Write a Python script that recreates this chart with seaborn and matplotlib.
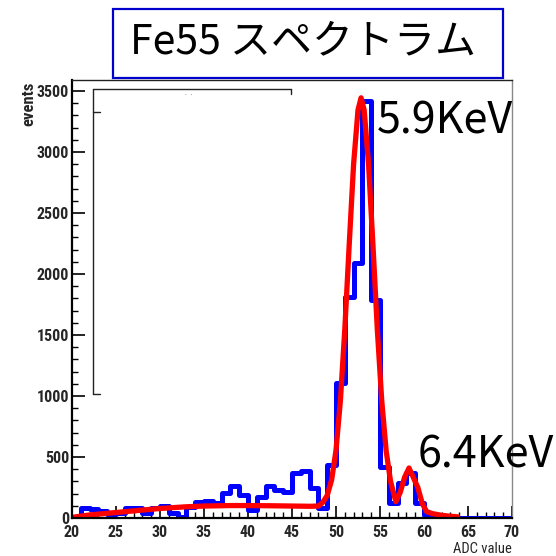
import numpy as np
import pandas as pd
import matplotlib
matplotlib.use("Agg")
import matplotlib.pyplot as plt
from matplotlib.patches import Rectangle
from matplotlib.lines import Line2D
from matplotlib.ticker import MultipleLocator
import seaborn as sns

# ADC histogram: 1-unit bins from 20 to 70 (lower edges)
bin_low = list(range(20, 70))
counts = [0, 85, 75, 58, 30, 40, 85, 78, 45, 80,
          100, 40, 10, 90, 130, 140, 120, 205, 260, 185,
          68, 172, 260, 230, 215, 365, 385, 245, 85, 435,
          1110, 1815, 2090, 3420, 1790, 420, 120, 285, 370, 120,
          25, 10, 3, 2, 0, 0, 0, 0, 0, 0]

# fitted curve (two peaks on a slowly varying background)
fit_x = [20, 22, 25, 28, 30, 33, 35, 38, 40, 43, 45, 47, 48, 48.5,
         49, 49.5, 50, 50.5, 51, 51.5, 52, 52.5, 52.85, 53.2, 53.7,
         54.2, 54.7, 55.2, 55.7, 56.2, 56.8, 57.3, 57.8, 58.3, 58.8,
         59.3, 59.8, 60.3, 61, 62, 63, 63.8]
fit_y = [5, 25, 45, 65, 78, 92, 98, 102, 102, 100, 98, 96, 98, 128,
         185, 311, 555, 963, 1546, 2240, 2902, 3345, 3445, 3345, 2900,
         2235, 1540, 960, 550, 300, 134, 210, 335, 410, 330,
         250, 120, 52, 35, 22, 14, 10]

x_ticks = [20, 25, 30, 35, 40, 45, 50, 55, 60, 65, 70]
y_ticks = [0, 500, 1000, 1500, 2000, 2500, 3000, 3500]

title = "Fe55 スペクトラム"
peak_labels = ["5.9KeV", "6.4KeV"]

sns.set_style("white")
plt.rcParams["font.family"] = ["Noto Sans CJK JP", "DejaVu Sans"]

W = 556
fig = plt.figure(figsize=(5.56, 5.56), dpi=100)
ax = fig.add_axes([72 / W, 38 / W, 440 / W, 438 / W])

hist_df = pd.DataFrame({"adc": [b + 0.5 for b in bin_low], "n": counts})
bin_edges = list(range(20, 71))
sns.histplot(data=hist_df, x="adc", weights="n", bins=bin_edges,
             element="step", fill=False, color="#0000FF", linewidth=3.6, ax=ax)

fit_df = pd.DataFrame({"adc": fit_x, "n": fit_y})
sns.lineplot(data=fit_df, x="adc", y="n", sort=False, estimator=None,
             color="#FF0000", linewidth=3.8, ax=ax)

ax.set_xlim(20, 70)
ax.set_ylim(0, 3591)
ax.set_xlabel("")
ax.set_ylabel("")

tick_font = ["Roboto Condensed", "DejaVu Sans"]
ax.set_xticks(x_ticks)
ax.set_yticks(y_ticks)
ax.xaxis.set_minor_locator(MultipleLocator(1))
ax.yaxis.set_minor_locator(MultipleLocator(100))
ax.tick_params(axis="both", which="major", direction="in", length=9,
               width=1.2, color="black", labelsize=11.5)
ax.tick_params(axis="both", which="minor", direction="in", length=4.5,
               width=1.0, color="black")
ax.tick_params(axis="y", which="both", left=True, right=False, pad=2)
ax.tick_params(axis="x", which="both", bottom=True, top=False, pad=5)
for lab in ax.get_xticklabels() + ax.get_yticklabels():
    lab.set_family(tick_font)
    lab.set_fontweight("bold")

for side in ["left", "bottom"]:
    ax.spines[side].set_color("black")
    ax.spines[side].set_linewidth(1.6)
ax.spines["top"].set_color("#222222")
ax.spines["top"].set_linewidth(1.0)
ax.spines["right"].set_color("#888888")
ax.spines["right"].set_linewidth(1.0)

# axis titles, ROOT style
fig.text(29 / W, 1 - 82 / W, "events", rotation=90, ha="center", va="top",
         fontsize=12, fontweight="bold", family=tick_font)
fig.text(512 / W, 1 - 556 / W, "ADC value", ha="right", va="bottom",
         fontsize=10.5, family=tick_font)

# partly hidden stats frame
def fline(xs, ys, **kw):
    fig.add_artist(Line2D([x / W for x in xs], [1 - y / W for y in ys],
                          color="#222222", linewidth=1.0, **kw))

fline([93, 291], [89, 89])
fline([291, 291], [89, 94])
fline([93, 93], [89, 394])
fline([93, 100], [394, 394])
fline([93, 100], [112, 112])
fig.text(189 / W, 1 - 95 / W, "· ·", ha="center", va="center", fontsize=5,
         color="#777777")

# title box
fig.add_artist(Rectangle((113 / W, 1 - 78 / W), 390 / W, 69 / W,
                         transform=fig.transFigure, facecolor="white",
                         edgecolor="#0000CC", linewidth=1.6))
fig.text(303 / W, 1 - 53 / W, title, ha="center", va="baseline",
         fontsize=29.5, color="black")

# peak annotations
fig.text(377 / W, 1 - 133 / W, peak_labels[0], ha="left", va="baseline",
         fontsize=31, color="black")
fig.text(418 / W, 1 - 467 / W, peak_labels[1], ha="left", va="baseline",
         fontsize=31, color="black")

fig.savefig("out.png", dpi=100)
